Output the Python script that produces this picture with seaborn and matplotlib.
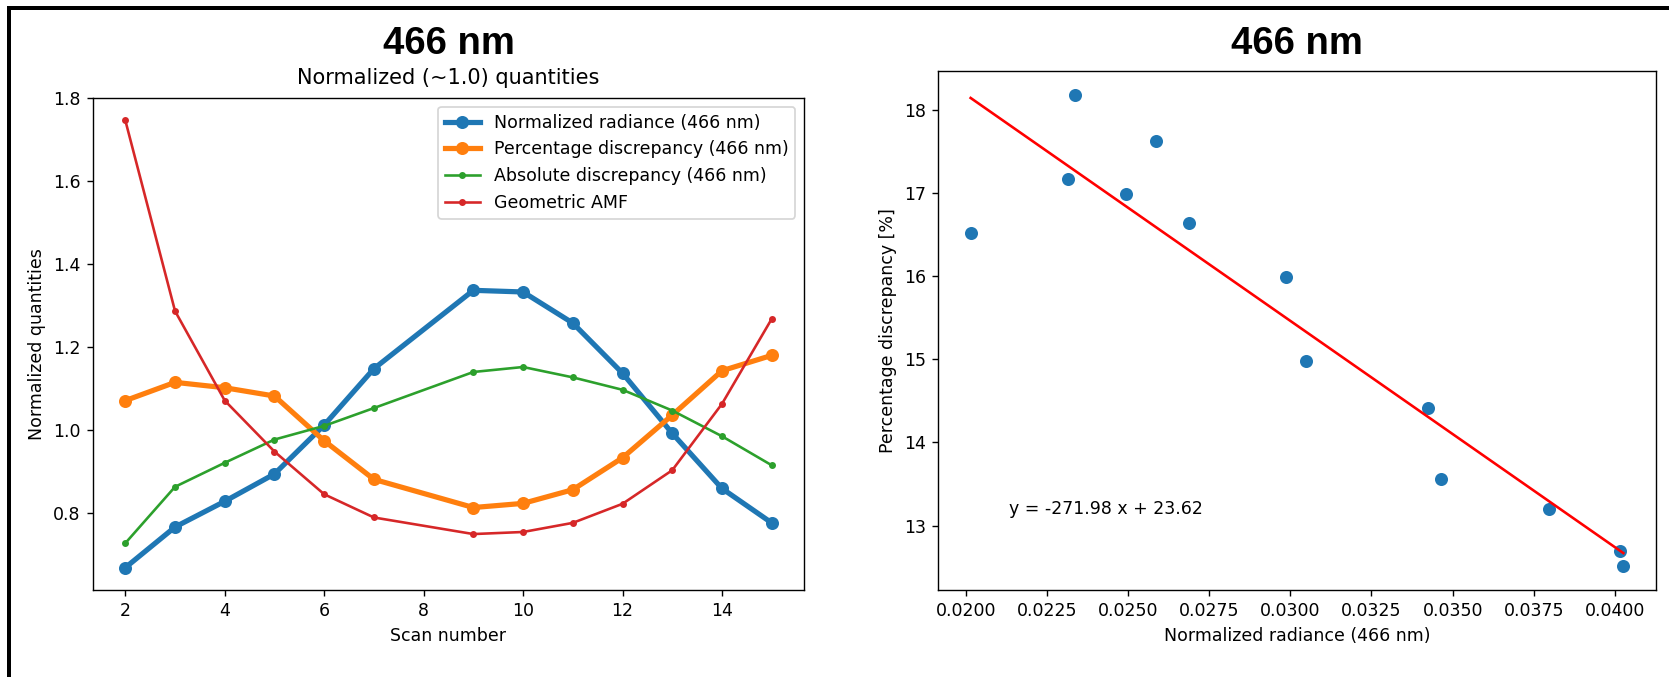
import matplotlib
matplotlib.use("Agg")
import matplotlib.pyplot as plt
import seaborn as sns
from matplotlib.patches import Rectangle

# %% data
scans = [2, 3, 4, 5, 6, 7, 9, 10, 11, 12, 13, 14, 15]
norm_radiance = [0.668, 0.766, 0.828, 0.894, 1.012, 1.148, 1.337, 1.333, 1.258, 1.137, 0.992, 0.859, 0.776]
pct_discrepancy_norm = [1.071, 1.115, 1.102, 1.082, 0.974, 0.881, 0.813, 0.823, 0.856, 0.933, 1.036, 1.143, 1.180]
abs_discrepancy_norm = [0.727, 0.863, 0.921, 0.977, 1.010, 1.053, 1.140, 1.152, 1.127, 1.097, 1.047, 0.985, 0.915]
geometric_amf = [1.747, 1.287, 1.071, 0.948, 0.845, 0.789, 0.749, 0.754, 0.776, 0.822, 0.903, 1.063, 1.268]

radiance = [0.02015, 0.02314, 0.02337, 0.02495, 0.02585, 0.02689, 0.02986,
            0.03049, 0.03423, 0.03463, 0.03796, 0.04016, 0.04026]
pct_discrepancy = [16.52, 17.17, 18.18, 16.98, 17.62, 16.64, 15.99,
                   14.98, 14.41, 13.56, 13.20, 12.70, 12.51]

slope, intercept = -271.98, 23.62
wavelength = "466 nm"

# %%
W, H, DPI = 1669, 677, 125
fig = plt.figure(figsize=(W / DPI, H / DPI), dpi=DPI)

def px_axes(x0, y0, x1, y1):
    return fig.add_axes([x0 / W, 1 - y1 / H, (x1 - x0) / W, (y1 - y0) / H])

ax1 = px_axes(93, 98, 804, 590)
ax2 = px_axes(938, 71, 1656, 590)

# left panel: normalized quantities
sns.lineplot(x=scans, y=norm_radiance, ax=ax1, color="C0", lw=3, marker="o", ms=6.5,
             mec="C0", mew=1, label=f"Normalized radiance ({wavelength})")
sns.lineplot(x=scans, y=pct_discrepancy_norm, ax=ax1, color="C1", lw=3, marker="o", ms=6.5,
             mec="C1", mew=1, label=f"Percentage discrepancy ({wavelength})")
sns.lineplot(x=scans, y=abs_discrepancy_norm, ax=ax1, color="C2", lw=1.5, marker=".", ms=6,
             mec="C2", mew=1, label=f"Absolute discrepancy ({wavelength})")
sns.lineplot(x=scans, y=geometric_amf, ax=ax1, color="C3", lw=1.5, marker=".", ms=6,
             mec="C3", mew=1, label="Geometric AMF")
ax1.set_title("Normalized (~1.0) quantities", pad=8)
ax1.set_xlabel("Scan number")
ax1.set_ylabel("Normalized quantities")
ax1.legend(loc="upper right")

# right panel: discrepancy vs radiance with linear fit
sns.scatterplot(x=radiance, y=pct_discrepancy, ax=ax2, color="C0", s=36, edgecolor="C0", linewidth=1.5)
fit_x = [min(radiance), max(radiance)]
fit_y = [slope * v + intercept for v in fit_x]
sns.lineplot(x=fit_x, y=fit_y, ax=ax2, color="red", lw=1.5)
ax2.text(0.02133, 13.2, f"y = {slope:.2f} x + {intercept:.2f}", va="center")
ax2.set_xlabel(f"Normalized radiance ({wavelength})")
ax2.set_ylabel("Percentage discrepancy [%]")
ax2.xaxis.set_major_formatter(matplotlib.ticker.FormatStrFormatter("%.4f"))

# big panel headings
for xc in (448.5, 1297):
    fig.text(xc / W, 1 - 44 / H, wavelength, ha="center", va="center",
             fontsize=22, fontweight="bold", family=["Liberation Sans", "DejaVu Sans"])

# black frame on top and left edges
fig.add_artist(Rectangle((7 / W, 1 - 10 / H), 1, 4 / H, transform=fig.transFigure,
                         color="black", lw=0))
fig.add_artist(Rectangle((7 / W, 0), 4 / W, 1 - 6 / H, transform=fig.transFigure,
                         color="black", lw=0))

fig.savefig("out.png", dpi=DPI)
